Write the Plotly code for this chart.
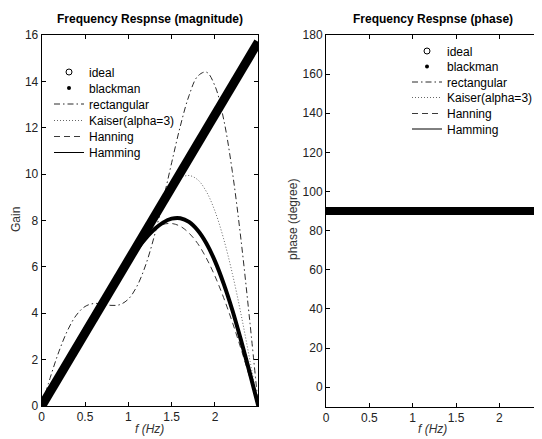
import plotly.graph_objects as go

# ---- data ----
freq = [0.0, 0.1, 0.2, 0.3, 0.4, 0.5, 0.6, 0.7, 0.8, 0.9, 1.0, 1.1, 1.2,
        1.3, 1.4, 1.5, 1.6, 1.7, 1.8, 1.9, 2.0, 2.1, 2.2, 2.3, 2.4, 2.5]
ideal_f = [0.0, 2.5]
ideal_gain = [0.0, 15.71]
rectangular = [0.00, 1.24, 2.36, 3.27, 3.92, 4.29, 4.42, 4.40, 4.34, 4.37,
               4.61, 5.17, 6.08, 7.33, 8.85, 10.49, 12.07, 13.38, 14.22,
               14.40, 13.80, 12.37, 10.12, 7.18, 3.72, 0.00]
kaiser = [0.00, 0.66, 1.30, 1.93, 2.54, 3.14, 3.73, 4.33, 4.94, 5.58, 6.26,
          6.96, 7.68, 8.37, 9.00, 9.51, 9.84, 9.94, 9.76, 9.25, 8.40, 7.21,
          5.72, 3.97, 2.03, 0.00]
hanning = [0.00, 0.63, 1.26, 1.91, 2.56, 3.22, 3.89, 4.55, 5.20, 5.82, 6.40,
           6.91, 7.33, 7.64, 7.83, 7.87, 7.75, 7.46, 7.01, 6.38, 5.60, 4.67,
           3.62, 2.47, 1.25, 0.00]
hamming = [0.00, 0.68, 1.35, 2.01, 2.67, 3.31, 3.93, 4.54, 5.13, 5.71, 6.26,
           6.77, 7.23, 7.62, 7.91, 8.08, 8.10, 7.94, 7.58, 7.02, 6.25, 5.28,
           4.14, 2.84, 1.45, 0.00]
blackman = hamming
phase_f = [0.0, 2.5]
phase_deg = [90.0, 90.0]

names = ["ideal", "blackman", "rectangular", "Kaiser(alpha=3)", "Hanning", "Hamming"]

OFF = 8  # page body margin
W, H = 542 - OFF, 439 - OFF
FONT = "Liberation Sans, Arial, Helvetica, sans-serif"
FS = 12

fig = go.Figure()


def px_x(p):
    return (p - OFF) / W


def px_y(p):
    return 1 - (p - OFF) / H


def add_set(xa, ya, lid0, phase):
    lids = ["legend" if lid0 + k == 1 else "legend%d" % (lid0 + k) for k in range(6)]
    curves = [
        (rectangular, "6px,3px,1.5px,3px", "#2a2a2a", names[2]),
        (kaiser, "1px,2px", "#666666", names[3]),
        (hanning, "6px,4px", "#3a3a3a", names[4]),
        (hamming, "solid", "#000000", names[5]),
    ]
    fig.add_trace(go.Scatter(x=[None], y=[None], mode="markers", name=names[0],
                             marker=dict(symbol="circle-open", size=6, color="black",
                                         line=dict(width=1)),
                             xaxis=xa, yaxis=ya, legend=lids[0]))
    fig.add_trace(go.Scatter(x=[None], y=[None], mode="markers", name=names[1],
                             marker=dict(symbol="circle", size=4, color="black"),
                             xaxis=xa, yaxis=ya, legend=lids[1]))
    for i, (vals, dash, col, nm) in enumerate(curves):
        xs, ys = (phase_f, phase_deg) if phase else (freq, vals)
        fig.add_trace(go.Scatter(x=xs, y=ys, mode="lines", name=nm,
                                 line=dict(color=col, width=1, dash=dash,
                                           shape="spline", smoothing=1.0),
                                 xaxis=xa, yaxis=ya, legend=lids[2 + i]))
    if phase:
        fig.add_trace(go.Scatter(x=phase_f, y=phase_deg, mode="lines", showlegend=False,
                                 line=dict(color="black", width=8), xaxis=xa, yaxis=ya))
    else:
        fig.add_trace(go.Scatter(x=freq, y=blackman, mode="lines", showlegend=False,
                                 line=dict(color="black", width=4, shape="spline"),
                                 xaxis=xa, yaxis=ya))
        fig.add_trace(go.Scatter(x=ideal_f, y=ideal_gain, mode="lines", showlegend=False,
                                 line=dict(color="black", width=9),
                                 xaxis=xa, yaxis=ya))
    return lids


lids_left = add_set("x", "y", 1, False)
lids_right = add_set("x2", "y2", 7, True)

axis_common = dict(showline=True, linecolor="black", linewidth=1, mirror="ticks",
                   ticks="inside", ticklen=4, tickcolor="black", showgrid=False,
                   zeroline=False, automargin=False,
                   tickfont=dict(family=FONT, size=FS, color="#222"))

layout_legends = {}
left_y = [72, 88, 104, 120.5, 136.5, 152.5]
right_y = [51, 66.5, 82, 97.5, 113.5, 129]
for lid, yy in zip(lids_left, left_y):
    layout_legends[lid] = dict(x=px_x(49), y=px_y(yy), xanchor="left", yanchor="middle",
                               bgcolor="rgba(0,0,0,0)", borderwidth=0,
                               font=dict(family=FONT, size=FS, color="black"))
for lid, yy in zip(lids_right, right_y):
    layout_legends[lid] = dict(x=px_x(407), y=px_y(yy), xanchor="left", yanchor="middle",
                               bgcolor="rgba(0,0,0,0)", borderwidth=0,
                               font=dict(family=FONT, size=FS, color="black"))

fig.update_layout(
    width=W, height=H, margin=dict(l=0, r=0, t=0, b=0),
    paper_bgcolor="white", plot_bgcolor="white",
    font=dict(family=FONT, size=FS, color="black"),
    xaxis=dict(domain=[px_x(41.7), px_x(258.3)], range=[0, 2.5],
               tickvals=[0, 0.5, 1, 1.5, 2], ticktext=["0", "0.5", "1", "1.5", "2"],
               anchor="y", **axis_common),
    yaxis=dict(domain=[px_y(406), px_y(35)], range=[0, 16],
               tickvals=list(range(0, 17, 2)), anchor="x", **axis_common),
    xaxis2=dict(domain=[px_x(326), 1.0], range=[0, 2.5 * (542 - 326) / 216.7],
                tickvals=[0, 0.5, 1, 1.5, 2], ticktext=["0", "0.5", "1", "1.5", "2"],
                anchor="y2", **axis_common),
    yaxis2=dict(domain=[px_y(406.7), px_y(35)], range=[-10, 180],
                tickvals=list(range(0, 181, 20)), anchor="x2", **axis_common),
    showlegend=True,
    annotations=[
        dict(text="<b>Frequency Respnse (magnitude)</b>", x=px_x(150), y=px_y(19)),
        dict(text="<b>Frequency Respnse (phase)</b>", x=px_x(433), y=px_y(19)),
        dict(text="<i>f (Hz)</i>", x=px_x(149), y=px_y(429), font=dict(size=FS, color="#333")),
        dict(text="<i>f (Hz)</i>", x=px_x(433), y=px_y(429), font=dict(size=FS, color="#333")),
        dict(text="Gain", x=px_x(16), y=px_y(220), textangle=-90,
             font=dict(size=FS, color="#333")),
        dict(text="phase (degree)", x=px_x(293), y=px_y(220), textangle=-90,
             font=dict(size=FS, color="#333")),
    ],
    **layout_legends,
)
fig.update_annotations(xref="paper", yref="paper", showarrow=False,
                       xanchor="center", yanchor="middle")

fig.write_html("out.html")
